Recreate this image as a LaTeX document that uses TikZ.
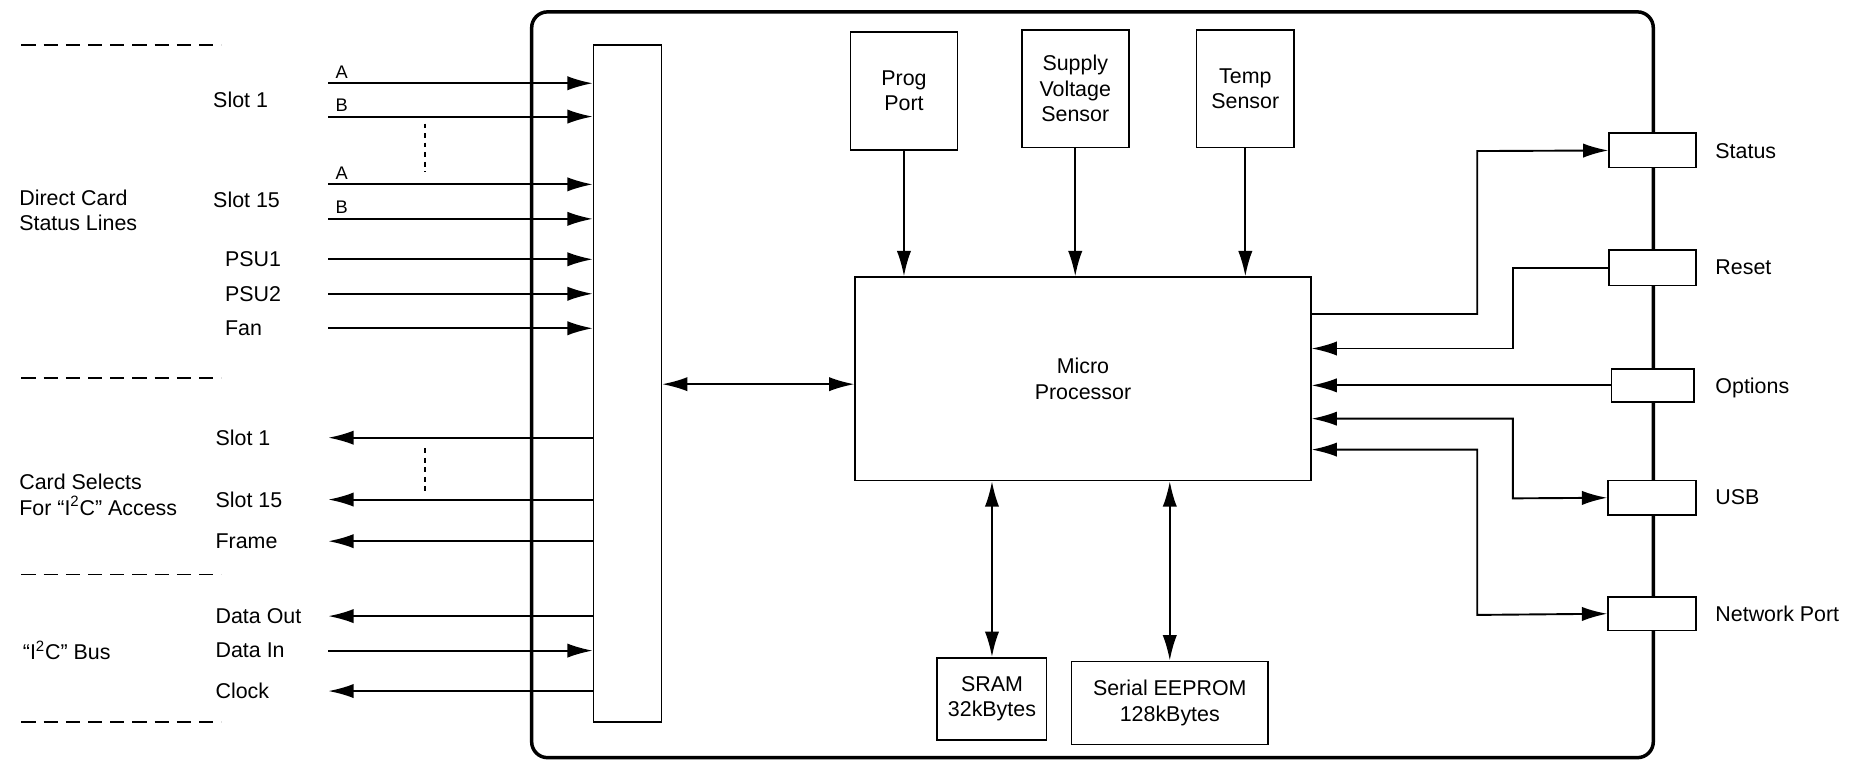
\documentclass[tikz,border=0pt]{standalone}
\usepackage{fontspec}
\setmainfont{Liberation Sans}
\usetikzlibrary{arrows.meta,positioning}

\tikzset{
    blk/.style={draw, line width=1pt, inner sep=0pt, align=center},
    lbl/.style={inner sep=0.75pt, align=left},
    sig/.style={line width=1.2pt, -{Latex[length=16pt,width=9pt]}},
    bisig/.style={line width=1.2pt, {Latex[length=16pt,width=9pt]}-{Latex[length=16pt,width=9pt]}},
    sep/.style={line width=1.2pt, dash pattern=on 9pt off 5pt}
}

\begin{document}
\begin{tikzpicture}[x=0.75pt,y=0.75pt,yscale=-1,font=\fontsize{13.5}{16}\selectfont]
    \useasboundingbox (0,0) rectangle (1568,652);

    %Outer box
    \draw [line width=2.2pt, rounded corners=10pt] (447,10) rectangle (1390,637);
    %Bus block
    \node (bus) [blk, minimum width=57*0.75pt, minimum height=569*0.75pt] at (527.5,322.5) {};

    % Sensor blocks
    \node (prog) [blk, minimum width=90*0.75pt, minimum height=99*0.75pt] at (760,76.5) {Prog\\Port};
    \node (volt) [blk, minimum width=90*0.75pt, minimum height=99*0.75pt] at (904,74.5) {Supply\\Voltage\\Sensor};
    \node (temp) [blk, minimum width=82*0.75pt, minimum height=99*0.75pt] at (1047,74.5) {Temp\\Sensor};
    % Micro processor
    \node (mp) [blk, minimum width=383*0.75pt, minimum height=171*0.75pt] at (910.5,318.5) {Micro\\Processor};
    % Memories
    \node (sram) [blk, minimum width=92*0.75pt, minimum height=69*0.75pt] at (834,587.5) {SRAM\\32kBytes};
    \node (eeprom) [blk, minimum width=165*0.75pt, minimum height=70*0.75pt] at (983.5,591) {Serial EEPROM\\128kBytes};

    % Right connectors
    \node (status) [blk, minimum width=73*0.75pt, minimum height=29*0.75pt, fill=white] at (1389.5,126.5) {};
    \node (reset) [blk, minimum width=73*0.75pt, minimum height=30*0.75pt, fill=white] at (1389.5,225) {};
    \node (opts) [blk, minimum width=69*0.75pt, minimum height=28*0.75pt, fill=white] at (1389.5,324) {};
    \node (usb) [blk, minimum width=74*0.75pt, minimum height=29*0.75pt, fill=white] at (1389,418.5) {};
    \node (net) [blk, minimum width=74*0.75pt, minimum height=28*0.75pt, fill=white] at (1389,516) {};
    \node (tstatus) [lbl, anchor=west] at (1441,127) {Status};
    \node (treset) [lbl, anchor=west] at (1441,225) {Reset};
    \node (topts) [lbl, anchor=west] at (1441,326) {Options};
    \node (tusb) [lbl, anchor=west] at (1441,418) {USB};
    \node (tnet) [lbl, anchor=west] at (1441,516) {Network Port};

    % Separators
    \foreach \y in {38,318,483,607}
        \draw [sep] (18,\y) -- (186,\y);
    % Group labels
    \node (gdirect) [lbl, anchor=west] at (15,177) {Direct Card\\Status Lines};
    \node (gsel) [lbl, anchor=west] at (15,416) {Card Selects\\For ``I\textsuperscript{2}C'' Access};
    \node (gbus) [lbl, anchor=west] at (18,547) {``I\textsuperscript{2}C'' Bus};

    % Input lines
    \foreach \y/\t in {70/A,98/B,155/A,184/B}
        \node [lbl, anchor=south west, font=\fontsize{11.5}{13}\selectfont] at (281,\y-3) {\t};
    \node (s1) [lbl, anchor=west] at (178,84) {Slot 1};
    \node (s15) [lbl, anchor=west] at (178,168) {Slot 15};
    \node (psu1) [lbl, anchor=west] at (188,218) {PSU1};
    \node (psu2) [lbl, anchor=west] at (188,247) {PSU2};
    \node (fan) [lbl, anchor=west] at (188,276) {Fan};
    \foreach \y in {70,98,155,184,218,247,276}
        \draw [sig] (276,\y) -- (bus.west |- 0,\y);
    \draw [line width=1.2pt, dashed] (357,104) -- (357,145);

    % Output lines
    \node (o1) [lbl, anchor=west] at (180,368) {Slot 1};
    \node (o15) [lbl, anchor=west] at (180,420) {Slot 15};
    \node (frame) [lbl, anchor=west] at (180,455) {Frame};
    \node (dout) [lbl, anchor=west] at (180,518) {Data Out};
    \node (din) [lbl, anchor=west] at (180,547) {Data In};
    \node (clk) [lbl, anchor=west] at (180,581) {Clock};
    \foreach \y in {368,420,455,518,581}
        \draw [sig] (bus.west |- 0,\y) -- (276,\y);
    \draw [sig] (276,547) -- (bus.west |- 0,547);
    \draw [line width=1.2pt, dashed] (357,377) -- (357,413);

    % Internal connections
    \draw [bisig] (bus.east |- 0,323) -- (mp.west |- 0,323);
    \draw [sig] (prog.south) -- (prog.south |- mp.north);
    \draw [sig] (volt.south) -- (volt.south |- mp.north);
    \draw [sig] (temp.south) -- (temp.south |- mp.north);
    \draw [bisig] (sram.north) -- (sram.north |- mp.south);
    \draw [bisig] (eeprom.north) -- (eeprom.north |- mp.south);

    % Right side connections
    \draw [sig] (mp.east |- 0,264) -- (1242,264) -- (1242,127) -- (status.west);
    \draw [sig] (reset.west) -- (1272,225) -- (1272,293) -- (mp.east |- 0,293);
    \draw [sig] (opts.west) -- (mp.east |- opts.west);
    \draw [bisig] (mp.east |- 0,352) -- (1272,352) -- (1272,419) -- (usb.west);
    \draw [bisig] (mp.east |- 0,378) -- (1242,378) -- (1242,517) -- (net.west);
\end{tikzpicture}
\end{document}
